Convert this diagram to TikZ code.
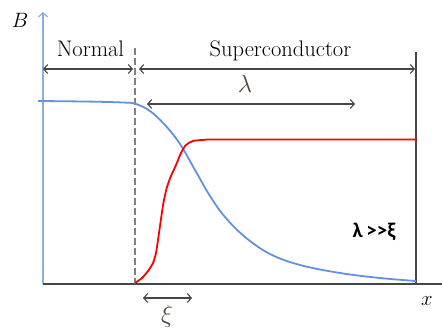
\documentclass[tikz,border=0pt]{standalone}
\usepackage{fontspec}
\newfontfamily\calfont{Carlito}
\usetikzlibrary{arrows.meta}
\definecolor{curveblue}{RGB}{98,146,222}
\definecolor{axisblue}{RGB}{140,175,225}
\definecolor{dimgray}{RGB}{70,70,70}
\definecolor{lamcol}{RGB}{80,70,60}
\tikzset{
  dimline/.style={draw=dimgray, line width=1.1pt,
    {Straight Barb[length=4pt,width=9pt]}-{Straight Barb[length=4pt,width=9pt]}},
  bigtext/.style={font=\rmfamily\fontsize{22.5}{27}\selectfont, inner sep=0pt, anchor=base},
  axlabel/.style={font=\rmfamily\fontsize{21}{24}\selectfont, inner sep=0pt},
  greek/.style={font=\fontsize{25}{28}\selectfont, inner sep=0pt, text=lamcol},
}
\begin{document}
\begin{tikzpicture}[x=1pt,y=-1pt]
\useasboundingbox (0,0) rectangle (442,329);
% coordinates
\coordinate (O) at (43,284);
\coordinate (Ytop) at (43,12);
\coordinate (Xend) at (442,284);
\coordinate (Dtop) at (135,48);
\coordinate (Dbot) at (135,284);
\coordinate (Rtop) at (416,52);
\coordinate (Rbot) at (416,284);
\coordinate (NL) at (43,69);
\coordinate (NR) at (133,69);
\coordinate (SL) at (139,69);
\coordinate (SR) at (415,69);
\coordinate (LL) at (147,104);
\coordinate (LR) at (355,104);
\coordinate (XL) at (143,298);
\coordinate (XR) at (192,298);
% axes
\draw[draw=axisblue, line width=1.3pt, -{Straight Barb[length=4pt,width=9pt]}] (O) -- (Ytop);
\draw[draw=dimgray, line width=1.3pt] (O) -- (Xend);
\draw[draw=gray, line width=1.4pt, dash pattern=on 7pt off 3pt] (Dtop) -- (Dbot);
\draw[draw=dimgray, line width=1.1pt] (Rtop) -- (Rbot);
% dimension arrows
\draw[dimline] (NL) -- (NR);
\draw[dimline] (SL) -- (SR);
\draw[dimline] (LL) -- (LR);
\draw[dimline] (XL) -- (XR);
% labels
\node[axlabel] (B) at (20,20) {$B$};
\node[axlabel] (xl) at (427,301) {$x$};
\node[bigtext] (normal) at (90.5,57) {Normal};
\node[bigtext] (sc) at (280.5,57) {Superconductor};
\node[greek] (lam) at (245,84) {$\lambda$};
\node[greek] (xi) at (167,316) {$\xi$};
\node[font=\calfont\bfseries\fontsize{21}{24}\selectfont, inner sep=0pt] (rel) at (374,232) {λ\,>>ξ};
% curves
\draw[curveblue, line width=1.8pt] plot[smooth, tension=0.6] coordinates {
 (38,101) (90,101.6) (125,102.6) (136,104) (150,111) (165,125) (180,144)
 (195,170) (210,196) (225,217) (245,237) (270,254) (300,265) (340,273)
 (380,278) (416,281)};
\draw[red, line width=1.8pt] plot[smooth, tension=0.45] coordinates {
 (135,283) (142,278) (148,271) (153,263) (156,253) (158,240) (160,226)
 (162,212) (164,200) (167,187) (171,176) (176,165) (181,153) (186,145)
 (193,141) (205,139.8) (225,139.5) (417,139.5)};
\end{tikzpicture}
\end{document}
